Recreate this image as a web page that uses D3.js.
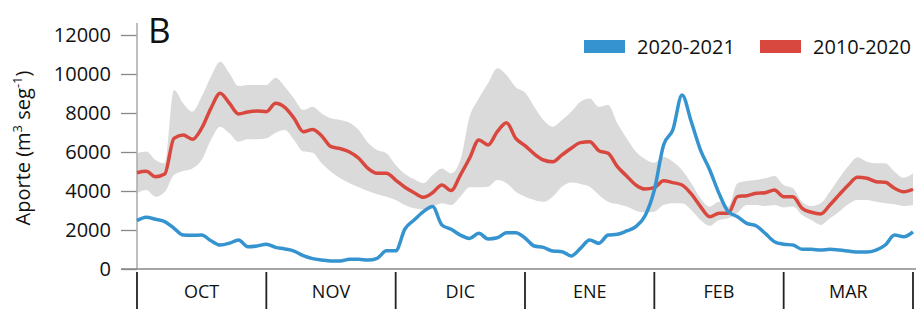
<!DOCTYPE html>
<html>
<head>
<meta charset="utf-8">
<script src="https://cdn.jsdelivr.net/npm/d3@7"></script>
<style>
  body { margin: 0; background: #fff; }
  svg { display: block; font-family: 'Open Sans', sans-serif; }
</style>
</head>
<body>
<svg id="chart"></svg>
<script>
// months on the x axis, each split into 14 steps (~2 days)
const months = ['OCT', 'NOV', 'DIC', 'ENE', 'FEB', 'MAR'];
const stepsPerMonth = 14;
const yTicks = [0, 2000, 4000, 6000, 8000, 10000, 12000];

// 2020-2021 season
const season2021 = [
  2480, 2650, 2550, 2430, 2090, 1740, 1730, 1740, 1450, 1230, 1320, 1490, 1140, 1180,
  1270, 1110, 1030, 920, 680, 530, 460, 410, 410, 500, 500, 460, 550, 930,
  930, 2050, 2510, 2940, 3200, 2260, 2040, 1740, 1570, 1830, 1540, 1600, 1860, 1860,
  1590, 1180, 1110, 920, 890, 670, 1060, 1490, 1320, 1740, 1780, 1950, 2170, 2730,
  4050, 6360, 7130, 8920, 7550, 6100, 5080, 3880, 2940, 2680, 2340, 2220, 1830, 1400,
  1270, 1230, 1010, 1010, 970, 1010, 970, 920, 870, 870, 970, 1230, 1740, 1660, 1910
];

// 2010-2020 mean
const mean2010 = [
  4940, 5010, 4730, 4870, 6700, 6870, 6650, 7220, 8240, 9010, 8500, 7950, 8050, 8100,
  8070, 8500, 8290, 7730, 7040, 7160, 6820, 6270, 6170, 6000, 5680, 5160, 4910, 4910,
  4560, 4190, 3910, 3680, 3910, 4310, 4020, 4820, 5680, 6620, 6360, 7040, 7500, 6700,
  6330, 5900, 5590, 5500, 5850, 6190, 6480, 6530, 6070, 5930, 5250, 4770, 4310, 4100,
  4170, 4530, 4430, 4310, 3850, 3200, 2680, 2860, 2860, 3710, 3760, 3880, 3910, 4050,
  3710, 3710, 3110, 2910, 2820, 3280, 3800, 4310, 4700, 4650, 4480, 4450, 4140, 3960, 4090
];

// 2010-2020 range (shaded band)
const bandHigh = [
  5930, 6020, 5590, 5420, 9180, 8500, 8070, 8840, 9860, 10630, 10040, 9380, 9440, 9440,
  9440, 9810, 9350, 8750, 8150, 8320, 7980, 7730, 7640, 7500, 7130, 6480, 6100, 5930,
  5330, 4870, 4600, 4400, 4820, 5160, 4910, 5590, 7810, 8750, 9520, 10290, 9950, 9320,
  9050, 8320, 7640, 7300, 7640, 8070, 8580, 8750, 8320, 8410, 7470, 6700, 6020, 5630,
  5450, 5760, 5500, 5080, 4400, 3630, 3200, 3450, 3200, 4400, 4510, 4560, 4650, 4770,
  4310, 4140, 3450, 3230, 3370, 3960, 4650, 5280, 5730, 5500, 5420, 5420, 4990, 4680, 4910
];
const bandLow = [
  3880, 4050, 3710, 3950, 4820, 5030, 5160, 5590, 6620, 7300, 6960, 6530, 6650, 6650,
  6700, 6990, 7130, 6620, 6020, 5960, 5420, 4990, 4650, 4400, 4190, 4000, 3830, 3710,
  3540, 3280, 3110, 3060, 3200, 3370, 3280, 3710, 4190, 4190, 4220, 4560, 4400, 3960,
  3710, 3540, 3450, 3710, 4220, 4430, 4360, 4220, 3800, 3450, 3330, 3200, 2990, 2910,
  2940, 3280, 3370, 3370, 3030, 2510, 2210, 2510, 2600, 2890, 3280, 3280, 3230, 3280,
  3160, 3200, 2770, 2510, 2260, 2600, 2940, 3330, 3540, 3540, 3450, 3370, 3320, 3230, 3280
];

const series = [
  { name: '2020-2021', values: season2021, color: '#3594d0' },
  { name: '2010-2020', values: mean2010, color: '#d9483f' }
];

const width = 916, height = 320;
const margin = { top: 23, right: 3, bottom: 51, left: 137 };
const plotBottom = height - margin.bottom; // 269

const svg = d3.select('#chart')
  .attr('width', width)
  .attr('height', height);

const nSteps = months.length * stepsPerMonth;

const x = d3.scaleLinear()
  .domain([0, nSteps])
  .range([margin.left, width - margin.right]);

const y = d3.scaleLinear()
  .domain([0, 12000])
  .range([plotBottom, 35]);

// shaded band
const area = d3.area()
  .curve(d3.curveMonotoneX)
  .x((d, i) => x(i))
  .y0((d, i) => y(bandLow[i]))
  .y1(d => y(d));

svg.append('path')
  .datum(bandHigh)
  .attr('fill', '#dadada')
  .attr('d', area);

// y axis
const yAxis = d3.axisLeft(y)
  .tickValues(yTicks)
  .tickFormat(d3.format('d'))
  .tickSize(16)
  .tickPadding(10)
  .tickSizeOuter(0);

const yAxisG = svg.append('g')
  .attr('transform', `translate(${margin.left},0)`)
  .call(yAxis);

yAxisG.select('.domain').remove();
yAxisG.selectAll('.tick line')
  .attr('stroke', '#888')
  .attr('stroke-width', 1.3);
yAxisG.selectAll('.tick text')
  .style('font-size', '20px')
  .style('font-family', "'Open Sans', sans-serif")
  .attr('fill', '#111');

// vertical axis line
svg.append('line')
  .attr('x1', margin.left).attr('x2', margin.left)
  .attr('y1', margin.top).attr('y2', plotBottom)
  .attr('stroke', '#aaa')
  .attr('stroke-width', 1.5);

// baseline
svg.append('line')
  .attr('x1', margin.left - 16).attr('x2', width)
  .attr('y1', plotBottom).attr('y2', plotBottom)
  .attr('stroke', '#888')
  .attr('stroke-width', 1.3);

// lines
const line = d3.line()
  .curve(d3.curveMonotoneX)
  .x((d, i) => x(i))
  .y(d => y(d));

[series[1], series[0]].forEach(s => {
  svg.append('path')
    .datum(s.values)
    .attr('fill', 'none')
    .attr('stroke', s.color)
    .attr('stroke-width', 3.5)
    .attr('stroke-linejoin', 'round')
    .attr('d', line);
});

// month bands on the x axis
const monthBounds = d3.range(months.length + 1).map(i => i * stepsPerMonth);

svg.selectAll('.month-sep')
  .data(monthBounds)
  .join('line')
  .attr('class', 'month-sep')
  .attr('x1', d => x(d)).attr('x2', d => x(d))
  .attr('y1', plotBottom + 3).attr('y2', 309)
  .attr('stroke', '#222')
  .attr('stroke-width', 1.8);

svg.selectAll('.month-label')
  .data(months)
  .join('text')
  .attr('class', 'month-label')
  .attr('x', (d, i) => x(i * stepsPerMonth + stepsPerMonth / 2))
  .attr('y', 298)
  .attr('text-anchor', 'middle')
  .style('font-size', '18px')
  .attr('fill', '#111')
  .text(d => d);

// y axis title
const yTitle = svg.append('text')
  .attr('transform', 'translate(30,148) rotate(-90)')
  .attr('text-anchor', 'middle')
  .style('font-size', '20px')
  .attr('fill', '#111');
yTitle.append('tspan').text('Aporte (m');
yTitle.append('tspan').attr('dy', -8).style('font-size', '13px').text('3');
yTitle.append('tspan').attr('dy', 8).text(' seg');
yTitle.append('tspan').attr('dy', -8).style('font-size', '13px').text('-1');
yTitle.append('tspan').attr('dy', 8).text(')');

// panel letter
svg.append('text')
  .attr('x', 148)
  .attr('y', 43)
  .style('font-size', '35px')
  .attr('fill', '#111')
  .text('B');

// legend
const legendX = [584, 760];
const legend = svg.selectAll('.legend')
  .data(series)
  .join('g')
  .attr('class', 'legend')
  .attr('transform', (d, i) => `translate(${legendX[i]},40)`);

legend.append('rect')
  .attr('width', 41)
  .attr('height', 13)
  .attr('fill', d => d.color);

legend.append('text')
  .attr('x', 53)
  .attr('y', 14)
  .style('font-size', '20px')
  .attr('fill', '#111')
  .text(d => d.name);
</script>
</body>
</html>
